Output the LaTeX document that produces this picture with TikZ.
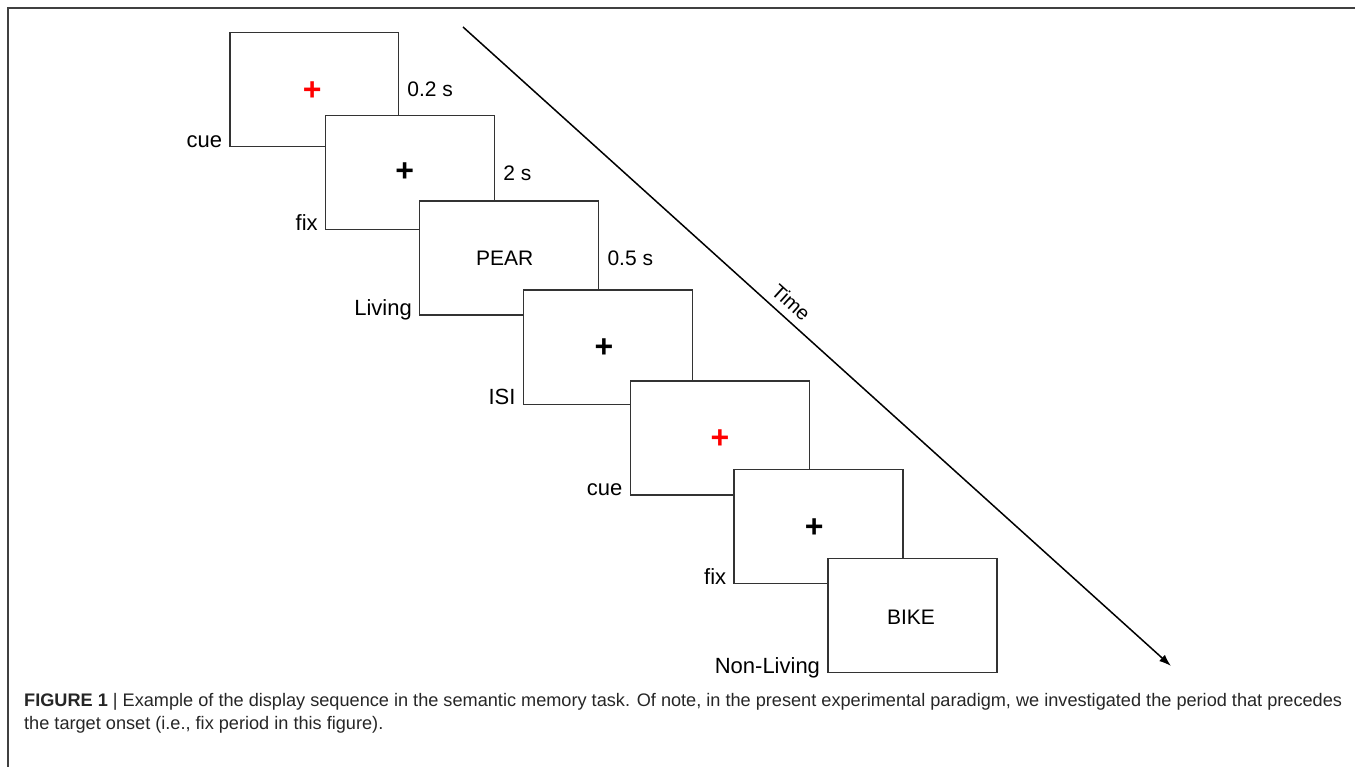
\documentclass[tikz,border=0pt]{standalone}
\usepackage{fontspec}
\setmainfont{Liberation Sans}
\usetikzlibrary{arrows.meta}
\begin{document}
\begin{tikzpicture}[x=1pt,y=-1pt,
  screen/.style={draw=black!80, line width=1.3pt, fill=white, minimum height=114pt, inner sep=0pt, font=\fontsize{21}{25}\selectfont},
  narrow/.style={screen, minimum width=169pt},
  wide/.style={screen, minimum width=179pt},
  leftlbl/.style={font=\fontsize{22}{26}\selectfont, anchor=base east, inner sep=0pt, xshift=-7pt},
  rightlbl/.style={font=\fontsize{21}{25}\selectfont, anchor=west, inner sep=0pt, xshift=8pt},
  plusmark/.style={font=\fontsize{32}{34}\selectfont\bfseries, inner sep=0pt},
  timeline/.style={line width=1.5pt, -{Latex[length=12pt,width=8.5pt]}},
  frameline/.style={draw=black!75, line width=1.5pt}
]
\useasboundingbox (0,0) rectangle (1355,767);
% frame
\coordinate (fbl) at (8,767);
\coordinate (ftl) at (8,8);
\coordinate (ftr) at (1355,8);
\draw[frameline] (fbl) -- (ftl) -- (ftr);

% screens
\node[narrow, minimum width=168.5pt] (s1) at (314.25,89.75) {};
\node[narrow] (s2) at (410,172.85) {};
\node[wide] (s3) at (509.2,258) {};
\node[narrow] (s4) at (607.8,347.15) {};
\node[wide] (s5) at (719.8,437.85) {};
\node[narrow] (s6) at (818.5,526.65) {};
\node[narrow] (s7) at (912.35,615.65) {};

% contents
\node[plusmark, text=red] (p1) at (312.3,90.7) {+};
\node[plusmark] (p2) at (404.7,171.7) {+};
\node[font=\fontsize{21}{25}\selectfont, inner sep=0pt] (w3) at (504.7,258.2) {PEAR};
\node[plusmark] (p4) at (604,348.3) {+};
\node[plusmark, text=red] (p5) at (720,439) {+};
\node[plusmark] (p6) at (814.3,527.7) {+};
\node[font=\fontsize{21}{25}\selectfont, inner sep=0pt] (w7) at (911,616.8) {BIKE};

% left labels
\node[leftlbl] (l1) at (s1.south west) {cue};
\node[leftlbl] (l2) at (s2.south west) {fix};
\node[leftlbl] (l3) at (s3.south west) {Living};
\node[leftlbl] (l4) at (s4.south west) {ISI};
\node[leftlbl] (l5) at (s5.south west) {cue};
\node[leftlbl] (l6) at (s6.south west) {fix};
\node[leftlbl] (l7) at (s7.south west) {Non-Living};

% right labels
\node[rightlbl] (r1) at (s1.east) {0.2 s};
\node[rightlbl] (r2) at (s2.east) {2 s};
\node[rightlbl] (r3) at (s3.east) {0.5 s};

% time arrow
\coordinate (tstart) at (463,27);
\coordinate (tend) at (1171,666);
\draw[timeline] (tstart) -- node[pos=0.449, sloped, above=4pt, font=\fontsize{20}{24}\selectfont] (tlabel) {Time} (tend);

% caption
\node[anchor=base west, align=left, inner sep=0pt, text=black!85, font=\fontsize{18.15}{22.5}\selectfont] (cap) at (24,729)
  {\textbf{FIGURE 1} | Example of the display sequence in the semantic memory task. Of note, in the present experimental paradigm, we investigated the period that precedes\\
   the target onset (i.e., fix period in this figure).};
\end{tikzpicture}
\end{document}
